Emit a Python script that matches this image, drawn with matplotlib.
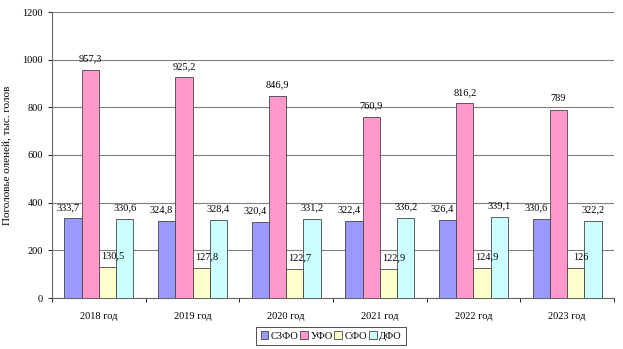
import numpy as np
import matplotlib
matplotlib.use('Agg')
import matplotlib.pyplot as plt

plt.rcParams['font.family'] = ['Liberation Serif', 'DejaVu Serif']

years = ['2018 год', '2019 год', '2020 год', '2021 год', '2022 год', '2023 год']
regions = ['СЗФО', 'УФО', 'СФО', 'ДФО']
szfo = [333.7, 324.8, 320.4, 322.4, 326.4, 330.6]
ufo = [957.3, 925.2, 846.9, 760.9, 816.2, 789]
sfo = [130.5, 127.8, 122.7, 122.9, 124.9, 126]
dfo = [330.6, 328.4, 331.2, 336.2, 339.1, 322.2]
colors = ['#9999FF', '#FF99CC', '#FFFFCC', '#CCFFFF']
# horizontal nudge of value labels so neighbours do not collide
label_shift = [-0.055, 0.0, 0.055, 0.0]


def fmt(v):
    return f'{v:g}'.replace('.', ',')


fig = plt.figure(figsize=(6.23, 3.49), dpi=100)
ax = fig.add_axes([52 / 623, 1 - 298 / 349, 562 / 623, 286 / 349])

x = np.arange(len(years))
w = 0.185
for i, (vals, col, name) in enumerate(zip([szfo, ufo, sfo, dfo], colors, regions)):
    pos = x + (i - 1.5) * w
    ax.bar(pos, vals, width=w, color=col, edgecolor='#444444', linewidth=0.6,
           label=name, zorder=3)
    for p, v in zip(pos, vals):
        ax.text(p + label_shift[i], v + 46, fmt(v), ha='center', va='center',
                fontsize=7.5, zorder=4)

ax.set_xlim(-0.5, len(years) - 0.5)
ax.set_ylim(0, 1200)
ax.set_yticks(range(0, 1201, 200))
ax.tick_params(axis='y', labelsize=7.5, length=3, width=0.6)
ax.yaxis.grid(True, color='#808080', linewidth=0.8, zorder=0)
ax.set_xticks(x)
ax.set_xticklabels(years, fontsize=7.5)
ax.tick_params(axis='x', length=0, pad=10)
ax.set_xticks(np.arange(len(years) + 1) - 0.5, minor=True)
ax.tick_params(axis='x', which='minor', length=3, width=0.6)
for s in ['top', 'right']:
    ax.spines[s].set_visible(False)
for s in ['left', 'bottom']:
    ax.spines[s].set_linewidth(0.8)
    ax.spines[s].set_color('#666666')
ax.set_ylabel('Поголовье оленей, тыс. голов', fontsize=8, labelpad=7)

leg = fig.legend(loc='center', bbox_to_anchor=(331 / 623, 1 - 336 / 349), ncol=4,
                 fontsize=7.5, frameon=True, fancybox=False, edgecolor='black',
                 handlelength=0.75, handleheight=0.75, handletextpad=0.2,
                 columnspacing=0.2, borderpad=0.45, borderaxespad=0)
leg.get_frame().set_linewidth(0.6)

fig.savefig('out.png', dpi=100)
